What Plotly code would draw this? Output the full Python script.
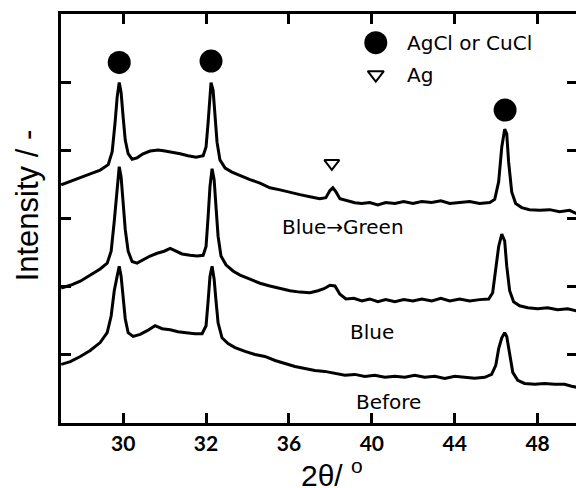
import plotly.graph_objects as go

# ---- data (2θ in degrees, intensity in offset arbitrary units) ----
before_x = [25.01, 25.45, 25.93, 26.41, 26.89, 27.23, 27.42, 27.57, 27.71, 27.81, 27.90, 28.0, 28.10, 28.24, 28.48,
            28.82, 29.16, 29.54, 29.88, 30.27, 30.65, 31.04, 31.47, 31.81, 32.0, 32.10, 32.19, 32.29, 32.39, 32.48,
            32.58, 32.77, 33.06, 33.40, 33.88, 34.36, 34.84, 35.33, 35.81, 36.29, 36.77, 37.25, 37.73, 38.22, 38.70,
            39.18, 39.66, 40.14, 40.63, 41.11, 41.59, 42.07, 42.55, 43.04, 43.52, 44.0, 44.48, 44.96, 45.45, 45.78,
            45.98, 46.12, 46.27, 46.41, 46.51, 46.65, 46.80, 47.04, 47.37, 47.86, 48.34, 48.82, 49.30, 49.64, 49.88]
before_y = [0.86, 0.90, 0.976, 1.063, 1.18, 1.325, 1.57, 1.94, 2.155, 2.30, 2.155, 1.864, 1.53, 1.325, 1.27,
            1.30, 1.354, 1.427, 1.383, 1.369, 1.34, 1.325, 1.31, 1.31, 1.427, 1.79, 2.155, 2.30, 2.11, 1.79,
            1.47, 1.25, 1.165, 1.107, 1.05, 1.005, 0.976, 0.917, 0.874, 0.83, 0.80, 0.77, 0.757, 0.728, 0.70,
            0.713, 0.684, 0.70, 0.67, 0.684, 0.67, 0.70, 0.67, 0.684, 0.655, 0.684, 0.67, 0.655, 0.67, 0.713,
            0.845, 1.09, 1.25, 1.325, 1.27, 0.99, 0.743, 0.626, 0.58, 0.568, 0.58, 0.568, 0.568, 0.54, 0.524]

blue_x = [25.01, 25.45, 25.93, 26.41, 26.89, 27.23, 27.42, 27.57, 27.71, 27.81, 27.90, 28.0, 28.10, 28.24, 28.43,
          28.67, 28.96, 29.30, 29.64, 29.98, 30.27, 30.55, 30.84, 31.23, 31.57, 31.86, 32.0, 32.10, 32.19, 32.29,
          32.39, 32.48, 32.58, 32.72, 32.96, 33.30, 33.64, 34.12, 34.60, 35.08, 35.57, 36.05, 36.53, 37.01, 37.40,
          37.69, 37.98, 38.22, 38.46, 38.75, 39.13, 39.52, 39.90, 40.29, 40.67, 41.11, 41.54, 41.98, 42.41, 42.89,
          43.33, 43.76, 44.24, 44.72, 45.20, 45.64, 45.83, 45.98, 46.12, 46.27, 46.41, 46.51, 46.65, 46.84, 47.13,
          47.52, 48.0, 48.48, 48.96, 49.45, 49.88]
blue_y = [1.98, 2.02, 2.08, 2.17, 2.26, 2.345, 2.52, 2.96, 3.47, 3.76, 3.61, 3.25, 2.84, 2.52, 2.37,
          2.345, 2.39, 2.45, 2.49, 2.52, 2.56, 2.52, 2.48, 2.46, 2.45, 2.46, 2.59, 3.03, 3.47, 3.73,
          3.57, 3.17, 2.74, 2.45, 2.32, 2.23, 2.17, 2.11, 2.05, 2.01, 1.97, 1.94, 1.92, 1.91, 1.94,
          1.97, 2.02, 2.01, 1.89, 1.82, 1.83, 1.79, 1.82, 1.78, 1.81, 1.78, 1.81, 1.79, 1.82, 1.79,
          1.83, 1.79, 1.82, 1.79, 1.81, 1.82, 1.91, 2.23, 2.59, 2.77, 2.67, 2.30, 1.94, 1.78, 1.72,
          1.69, 1.675, 1.69, 1.66, 1.675, 1.645]

bg_x = [25.01, 25.45, 25.93, 26.41, 26.89, 27.28, 27.47, 27.61, 27.71, 27.81, 27.90, 28.0, 28.10, 28.24, 28.43,
        28.67, 28.96, 29.30, 29.69, 30.02, 30.36, 30.75, 31.13, 31.52, 31.86, 32.0, 32.10, 32.19, 32.24, 32.34,
        32.43, 32.53, 32.67, 32.92, 33.25, 33.64, 34.12, 34.60, 35.08, 35.57, 36.05, 36.53, 37.01, 37.49, 37.78,
        37.98, 38.12, 38.27, 38.46, 38.80, 39.18, 39.52, 39.90, 40.29, 40.67, 41.11, 41.54, 41.98, 42.41, 42.89,
        43.33, 43.76, 44.24, 44.72, 45.20, 45.69, 45.93, 46.12, 46.27, 46.41, 46.51, 46.60, 46.75, 46.94, 47.23,
        47.61, 48.10, 48.58, 49.06, 49.54, 49.88]
bg_y = [3.495, 3.54, 3.60, 3.655, 3.71, 3.79, 3.98, 4.41, 4.78, 4.995, 4.85, 4.485, 4.15, 3.95, 3.87,
        3.89, 3.95, 3.99, 4.005, 3.99, 3.975, 3.95, 3.92, 3.90, 3.92, 4.05, 4.41, 4.85, 4.995, 4.88,
        4.485, 4.12, 3.86, 3.74, 3.68, 3.63, 3.57, 3.52, 3.45, 3.42, 3.38, 3.35, 3.32, 3.29, 3.305,
        3.41, 3.45, 3.39, 3.29, 3.26, 3.23, 3.22, 3.235, 3.20, 3.235, 3.22, 3.25, 3.22, 3.25, 3.235,
        3.26, 3.22, 3.235, 3.25, 3.22, 3.235, 3.28, 3.54, 4.05, 4.31, 4.24, 3.83, 3.39, 3.22, 3.16,
        3.13, 3.12, 3.13, 3.10, 3.12, 3.07]

# phase markers
agcl_x = [27.81, 32.24, 46.43]
agcl_y = [5.29, 5.31, 4.59]
ag_x = [38.07]
ag_y = [3.81]

# legend entries (drawn inside the axes)
legend_x = [40.19, 40.19]
legend_y = [5.58, 5.11]
legend_texts = ["AgCl or CuCl", "Ag"]

# sample labels
label_texts = ["Blue\u2192Green", "Blue", "Before"]
label_x = [38.60, 40.0, 40.82]
label_y = [2.88, 1.34, 0.31]

tick_vals = [28, 32, 36, 40, 44, 48]
tick_text = ["30", "32", "36", "40", "44", "48"]

LABEL_FONT = "DejaVu Sans"
fig = go.Figure()
line = dict(color="black", width=3)
for xs, ys in [(before_x, before_y), (blue_x, blue_y), (bg_x, bg_y)]:
    fig.add_trace(go.Scatter(x=xs, y=ys, mode="lines", line=line, showlegend=False))

fig.add_trace(go.Scatter(x=agcl_x + legend_x[:1], y=agcl_y + legend_y[:1], mode="markers",
                         marker=dict(symbol="circle", size=23, color="black", opacity=1),
                         showlegend=False))
fig.add_trace(go.Scatter(x=ag_x + legend_x[1:], y=ag_y + legend_y[1:], mode="markers",
                         marker=dict(symbol="triangle-down-open", size=[13, 14], color="black", opacity=1,
                                     line=dict(width=2, color="black")), showlegend=False))

for t, yy in zip(legend_texts, legend_y):
    fig.add_annotation(x=41.6, y=yy, text=t, showarrow=False, xanchor="left", yanchor="middle",
                       font=dict(family=LABEL_FONT, size=20, color="black"))
for t, xx, yy in zip(label_texts, label_x, label_y):
    fig.add_annotation(x=xx, y=yy, text=t, showarrow=False, xanchor="center", yanchor="middle",
                       font=dict(family=LABEL_FONT, size=20, color="black"))

fig.add_annotation(xref="paper", yref="paper", x=-0.066, y=0.532, text="Intensity / -",
                   textangle=-90, showarrow=False, xanchor="center", yanchor="middle",
                   font=dict(family="Liberation Sans, Arial", size=31, color="black"))
fig.add_annotation(xref="paper", yref="paper", x=0.525, y=-0.07, text="2θ/ <sup>o</sup>",
                   showarrow=False, xanchor="center", yanchor="top",
                   font=dict(family="Liberation Sans, Arial", size=30, color="black"))

fig.update_xaxes(range=[25.0, 49.9], tickvals=tick_vals, ticktext=tick_text,
                 ticks="inside", ticklen=10, tickwidth=2.5, tickcolor="black",
                 showline=True, linewidth=3, linecolor="black", mirror="ticks",
                 showgrid=False, zeroline=False,
                 tickfont=dict(family="Lato", size=21, color="black", weight="bold"))
fig.update_yaxes(range=[0, 6], tickvals=[1, 2, 3, 4, 5], showticklabels=False,
                 ticks="inside", ticklen=10, tickwidth=2.5, tickcolor="black",
                 showline=True, linewidth=3, linecolor="black", mirror="ticks",
                 showgrid=False, zeroline=False)

# page body adds an 8px margin, so the figure is 8px smaller than the window
fig.update_layout(width=576, height=480, margin=dict(l=53, r=7, t=3, b=65),
                  plot_bgcolor="white", paper_bgcolor="white", showlegend=False)

fig.write_html("out.html")
